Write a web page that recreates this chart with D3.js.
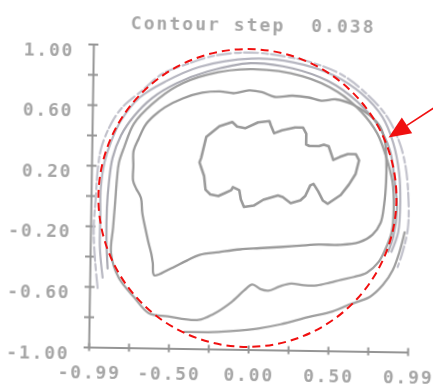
<!DOCTYPE html>
<html>
<head>
<meta charset="utf-8">
<script src="https://cdn.jsdelivr.net/npm/d3@7"></script>
<style>
  html, body { margin: 0; padding: 0; background: #fff; }
  svg { display: block; }
</style>
</head>
<body>
<svg id="chart" width="433" height="389"></svg>
<script>
// ---------------- data ----------------
const title = "Contour step  0.038";
const xTickValues = [-0.99, -0.7425, -0.495, -0.2475, 0, 0.2475, 0.495, 0.7425, 0.99];
const xTickLabels = ["-0.99", "", "-0.50", "", "0.00", "", "0.50", "", "0.99"];
const yTickValues = [1, 0.8, 0.6, 0.4, 0.2, 0, -0.2, -0.4, -0.6, -0.8, -1];
const yTickLabels = ["1.00", "", "0.60", "", "0.20", "", "-0.20", "", "-0.60", "", "-1.00"];

// contour lines, in axis units [x, y]
const contourInner = [
  [-0.31,0.26],[-0.28,0.40],[-0.20,0.47],[-0.12,0.50],[-0.09,0.47],[-0.04,0.46],[0.04,0.50],[0.11,0.51],
  [0.12,0.48],[0.14,0.43],[0.19,0.45],[0.27,0.47],[0.32,0.47],[0.34,0.43],[0.34,0.36],[0.36,0.35],
  [0.42,0.35],[0.45,0.36],[0.48,0.35],[0.49,0.32],[0.51,0.26],[0.55,0.28],[0.60,0.30],[0.65,0.30],
  [0.67,0.26],[0.65,0.17],[0.61,0.10],[0.56,0.03],[0.48,-0.03],[0.45,-0.01],[0.42,0.05],[0.39,0.10],
  [0.37,0.09],[0.34,0.02],[0.31,-0.01],[0.25,-0.03],[0.20,0.01],[0.17,0.02],[0.14,0.01],[0.08,-0.01],
  [0.02,-0.05],[-0.04,-0.06],[-0.06,-0.01],[-0.07,0.05],[-0.11,0.07],[-0.12,0.05],[-0.16,0.03],
  [-0.20,0.01],[-0.25,0.02],[-0.28,0.05],[-0.29,0.14],[-0.31,0.20],[-0.32,0.23]
];
const contourSecond = [
  [-0.73,0.10],[-0.73,0.20],[-0.73,0.30],[-0.70,0.38],[-0.66,0.47],[-0.61,0.53],[-0.54,0.59],[-0.43,0.65],
  [-0.31,0.69],[-0.20,0.70],[-0.11,0.69],[-0.02,0.71],[0.06,0.70],[0.14,0.67],[0.25,0.68],[0.35,0.67],
  [0.43,0.65],[0.52,0.66],[0.62,0.63],[0.73,0.56],[0.80,0.48],[0.83,0.38],[0.84,0.25],[0.84,0.12],
  [0.83,-0.03],[0.81,-0.15],[0.76,-0.23],[0.68,-0.28],[0.56,-0.30],[0.43,-0.30],[0.31,-0.31],[0.19,-0.32],
  [0.06,-0.33],[-0.06,-0.34],[-0.19,-0.36],[-0.31,-0.38],[-0.39,-0.42],[-0.50,-0.48],[-0.59,-0.52],
  [-0.60,-0.44],[-0.61,-0.38],[-0.63,-0.30],[-0.65,-0.21],[-0.67,-0.11],[-0.68,-0.01],[-0.71,0.05]
];
const contourThird = [
  [-0.83,0.12],[-0.84,-0.05],[-0.85,-0.21],[-0.86,-0.38],[-0.81,-0.54],[-0.71,-0.67],[-0.62,-0.77],
  [-0.50,-0.79],[-0.31,-0.81],[-0.22,-0.77],[-0.11,-0.69],[-0.03,-0.61],[0.02,-0.57],[0.07,-0.60],
  [0.12,-0.61],[0.19,-0.58],[0.26,-0.56],[0.34,-0.57],[0.42,-0.57],[0.50,-0.55],[0.57,-0.53],[0.65,-0.51],
  [0.73,-0.48],[0.80,-0.41],[0.84,-0.33],[0.88,-0.21],[0.89,-0.05],[0.88,0.12],[0.84,0.28],[0.78,0.44],
  [0.68,0.58],[0.53,0.71],[0.31,0.81],[-0.01,0.85],[-0.28,0.81],[-0.47,0.73],[-0.62,0.61],[-0.73,0.48],
  [-0.79,0.32],[-0.82,0.22]
];
const contourBottom = [
  [-0.40,-0.89],[-0.25,-0.89],[-0.11,-0.88],[0.06,-0.86],[0.20,-0.83],[0.37,-0.78],[0.52,-0.74],
  [0.63,-0.69],[0.75,-0.64],[0.83,-0.56],[0.89,-0.46],[0.93,-0.34],[0.96,-0.21]
];
const ringOuter = [
  [-0.94,-0.61],[-0.96,-0.41],[-0.97,-0.21],[-0.96,-0.01],[-0.95,0.18],[-0.93,0.32],[-0.87,0.48],
  [-0.80,0.59],[-0.68,0.70],[-0.56,0.81],[-0.40,0.88],[-0.22,0.94],[-0.01,0.96],[0.19,0.94],[0.37,0.90],
  [0.56,0.82],[0.71,0.70],[0.84,0.55],[0.92,0.38],[0.96,0.22],[0.98,0.02],[0.98,-0.18],[0.95,-0.34],[0.92,-0.44]
];
const ringMiddle = [
  [-0.91,-0.54],[-0.93,-0.34],[-0.93,-0.15],[-0.93,0.05],[-0.91,0.22],[-0.87,0.36],[-0.81,0.50],
  [-0.70,0.65],[-0.54,0.76],[-0.33,0.86],[-0.01,0.92],[0.25,0.90],[0.50,0.82],[0.68,0.70],[0.81,0.55],
  [0.88,0.38],[0.92,0.18],[0.93,-0.01],[0.92,-0.21],[0.88,-0.34]
];
const ringInner = [
  [-0.88,-0.48],[-0.89,-0.28],[-0.89,-0.08],[-0.88,0.09],[-0.86,0.25],[-0.81,0.40],[-0.73,0.53],
  [-0.62,0.65],[-0.47,0.75],[-0.28,0.83],[-0.01,0.89],[0.25,0.86],[0.47,0.78],[0.65,0.65],[0.78,0.50],
  [0.86,0.33],[0.89,0.15],[0.91,-0.05],[0.89,-0.24],[0.86,-0.34]
];

// annotation (red dashed circle and arrow), axis units
const circleCenter = [-0.019, 0.0];
const circleRadius = [0.925, 0.983];
const arrowFrom = [1.137, 0.594];
const arrowTo = [0.857, 0.40];

// ---------------- drawing ----------------
const svg = d3.select("#chart");
const defs = svg.append("defs");
defs.append("filter").attr("id", "soft")
  .attr("x", "-5%").attr("y", "-5%").attr("width", "110%").attr("height", "110%")
  .append("feGaussianBlur").attr("stdDeviation", 0.55);

const x = d3.scaleLinear().domain([-0.99, 0.99]).range([91, 410]);
const y = d3.scaleLinear().domain([-1, 1]).range([349.5, 46.5]);

const grey = "#959595";
const textGrey = "#a6a6a6";
const monoFont = "'DejaVu Sans Mono', 'Liberation Mono', monospace";

const plot = svg.append("g")
  .attr("transform", "rotate(0.9,248,198)")
  .attr("filter", "url(#soft)");

// title
plot.append("text")
  .attr("x", 128).attr("y", 30.5)
  .style("white-space", "pre")
  .attr("font-family", monoFont).attr("font-size", 18).attr("font-weight", "bold")
  .attr("letter-spacing", "2.05px")
  .attr("fill", textGrey)
  .text(title);

// y axis
const yAxis = plot.append("g")
  .attr("transform", `translate(${x(-0.99)},0)`)
  .call(d3.axisLeft(y).tickValues(yTickValues).tickFormat("").tickSizeOuter(0));
yAxis.select(".domain").attr("stroke", grey).attr("stroke-width", 2);
yAxis.selectAll(".tick line").attr("x1", -5).attr("x2", 5).attr("stroke", grey).attr("stroke-width", 2);

plot.append("g").selectAll("text")
  .data(yTickValues.map((v, i) => ({ v, t: yTickLabels[i] })).filter(d => d.t))
  .join("text")
  .attr("x", x(-0.99) - 19)
  .attr("y", d => y(d.v) + 12)
  .attr("text-anchor", "end")
  .attr("font-family", monoFont).attr("font-size", 18).attr("font-weight", "bold")
  .attr("letter-spacing", "1.8px")
  .attr("fill", textGrey)
  .text(d => d.t);

// x axis
const xAxis = plot.append("g")
  .attr("transform", `translate(0,${y(-1)})`)
  .call(d3.axisBottom(x).tickValues(xTickValues).tickFormat("").tickSizeOuter(0));
xAxis.select(".domain").attr("stroke", grey).attr("stroke-width", 2);
xAxis.selectAll(".tick line").attr("y1", -4).attr("y2", 4).attr("stroke", grey).attr("stroke-width", 2);

plot.append("g").selectAll("text")
  .data(xTickValues.map((v, i) => ({ v, t: xTickLabels[i] })).filter(d => d.t))
  .join("text")
  .attr("x", d => x(d.v) + 1)
  .attr("y", y(-1) + 31)
  .attr("text-anchor", "middle")
  .attr("font-family", monoFont).attr("font-size", 18).attr("font-weight", "bold")
  .attr("letter-spacing", "1.8px")
  .attr("fill", textGrey)
  .text(d => d.t);

// contours
const lineOpen = d3.line().x(d => x(d[0])).y(d => y(d[1])).curve(d3.curveCatmullRom.alpha(0.5));
const lineClosed = d3.line().x(d => x(d[0])).y(d => y(d[1])).curve(d3.curveCatmullRomClosed.alpha(0.5));
const lineJagged = d3.line().x(d => x(d[0])).y(d => y(d[1])).curve(d3.curveLinearClosed);

const cg = plot.append("g").attr("fill", "none").attr("stroke-linejoin", "round").attr("stroke-linecap", "round");
cg.append("path").attr("d", lineOpen(ringOuter)).attr("stroke", "#c2c2cc").attr("stroke-width", 2.2).attr("stroke-dasharray", "14 4 6 3");
cg.append("path").attr("d", lineOpen(ringMiddle)).attr("stroke", "#b6b6c0").attr("stroke-width", 2.2);
cg.append("path").attr("d", lineOpen(ringInner)).attr("stroke", "#ababb4").attr("stroke-width", 2.2);
cg.append("path").attr("d", lineClosed(contourThird)).attr("stroke", "#a0a0a0").attr("stroke-width", 2.3);
cg.append("path").attr("d", lineOpen(contourBottom)).attr("stroke", "#a0a0a0").attr("stroke-width", 2.3);
cg.append("path").attr("d", lineClosed(contourSecond)).attr("stroke", "#9a9a9a").attr("stroke-width", 2.3);
cg.append("path").attr("d", lineJagged(contourInner)).attr("stroke", "#9a9a9a").attr("stroke-width", 2.6);

// annotation
const ann = svg.append("g");
ann.append("ellipse")
  .attr("cx", x(circleCenter[0])).attr("cy", y(circleCenter[1]))
  .attr("rx", x(circleRadius[0]) - x(0)).attr("ry", y(0) - y(circleRadius[1]))
  .attr("fill", "none").attr("stroke", "#f01010").attr("stroke-width", 2)
  .attr("stroke-dasharray", "8 5");

const p0 = [x(arrowFrom[0]), y(arrowFrom[1])];
const p1 = [x(arrowTo[0]), y(arrowTo[1])];
const dx = p1[0] - p0[0], dy = p1[1] - p0[1];
const len = Math.hypot(dx, dy);
const ux = dx / len, uy = dy / len;
const headLen = 22, headHalf = 9.5;
const base = [p1[0] - ux * headLen, p1[1] - uy * headLen];
ann.append("line")
  .attr("x1", p0[0]).attr("y1", p0[1]).attr("x2", base[0]).attr("y2", base[1])
  .attr("stroke", "#f01010").attr("stroke-width", 1.6);
ann.append("path")
  .attr("d", d3.line()([
    p1,
    [base[0] - uy * headHalf, base[1] + ux * headHalf],
    [base[0] + uy * headHalf, base[1] - ux * headHalf]
  ]) + "Z")
  .attr("fill", "#f01010");
</script>
</body>
</html>
